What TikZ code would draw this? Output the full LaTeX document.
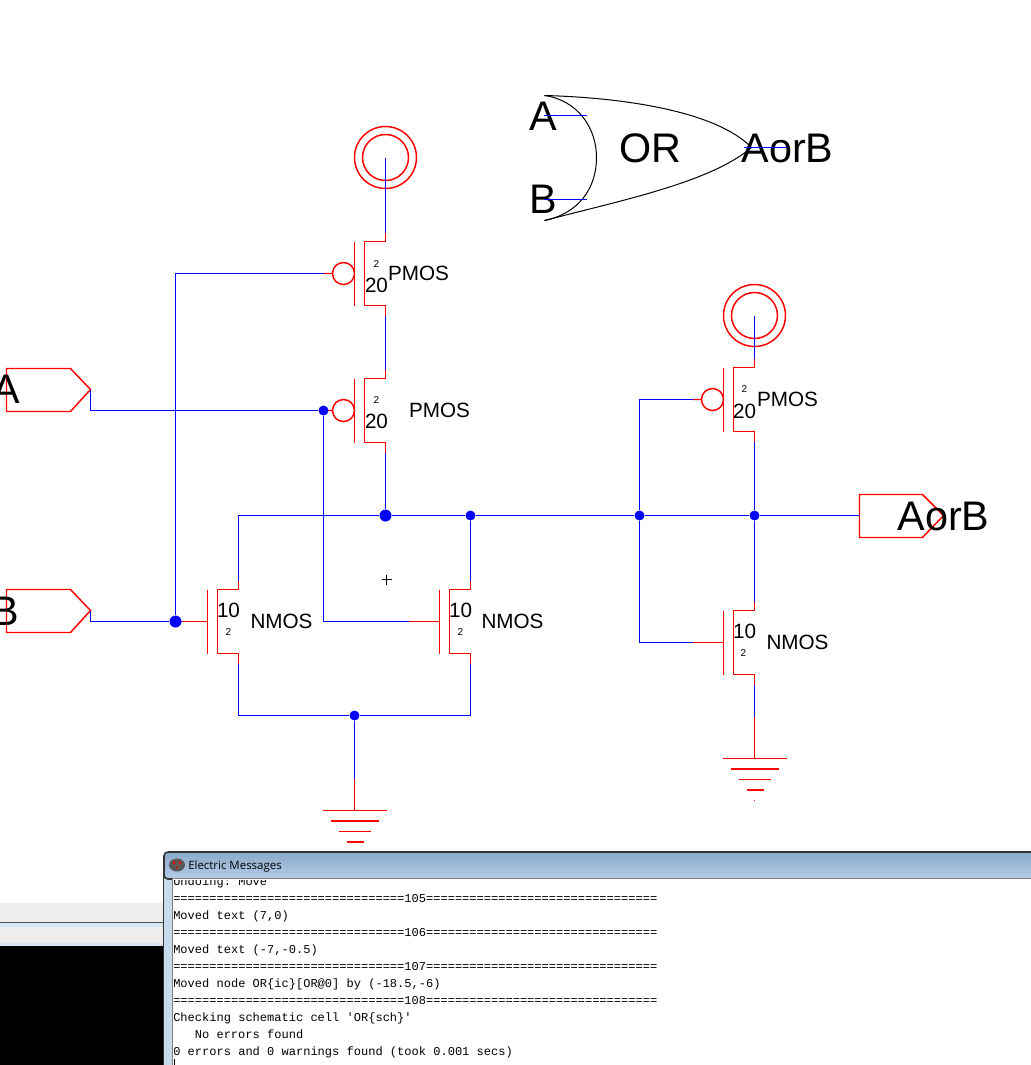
\documentclass[tikz,border=0pt]{standalone}
\usepackage{fontspec}
\setmainfont{Liberation Sans}
\setmonofont{Liberation Mono}
\newfontfamily\titlefont{Open Sans}
\definecolor{wireblue}{RGB}{0,0,255}
\definecolor{bartop}{RGB}{138,169,201}
\definecolor{barbot}{RGB}{181,205,232}
\definecolor{rimblue}{RGB}{216,230,243}
\tikzset{
  wire/.style={color=wireblue,line width=1.1pt},
  part/.style={draw=red,line width=1.1pt},
  dot/.style={circle,fill=wireblue,inner sep=0pt,minimum size=7.5pt},
  bigtext/.style={inner sep=0pt,anchor=base,font=\fontsize{31}{31}\selectfont},
  midtext/.style={inner sep=0pt,anchor=base,font=\fontsize{15.5}{15.5}\selectfont},
  smalltext/.style={inner sep=0pt,anchor=base,font=\fontsize{7.5}{7.5}\selectfont},
  msgtext/.style={inner sep=0pt,anchor=base west,font=\fontsize{9.03}{9.03}\ttfamily},
  ring/.style={circle,draw=red,line width=1.1pt,inner sep=0pt},
  mosbody/.pic={
    \draw[part] (-31,-32) -- (-31,32);
    \draw[part] (0,-41) -- (0,-32) -- (-21,-32) -- (-21,32) -- (0,32) -- (0,42);
    \coordinate (-top) at (0,-41);
    \coordinate (-bot) at (0,42);
    \coordinate (-gate) at (-62,0);
  },
  pmosgate/.pic={
    \draw[part] (-42,0) circle[radius=11] (-53,0) -- (-62,0);
  },
  nmosgate/.pic={
    \draw[part] (-31,0) -- (-62,0);
  },
  groundbars/.pic={
    \draw[part] (-32,0) -- (32,0);
    \draw[part] (-24,10.5) -- (24,10.5);
    \draw[part] (-16,21) -- (16,21);
    \draw[part] (-8,31.5) -- (9,31.5);
  }
}
\begin{document}
\begin{tikzpicture}[x=0.75pt,y=-0.75pt]
  \useasboundingbox (0,0) rectangle (1031,1065);
  \begin{scope}[shift={(0.5,0.5)}]

  % transistors
  \pic (p1) at (385,273) {mosbody};
  \pic at (385,273) {pmosgate};
  \pic (p2) at (385,410) {mosbody};
  \pic at (385,410) {pmosgate};
  \pic (p3) at (754,399) {mosbody};
  \pic at (754,399) {pmosgate};
  \pic (n1) at (238,621) {mosbody};
  \pic at (238,621) {nmosgate};
  \pic (n2) at (470,621) {mosbody};
  \pic at (470,621) {nmosgate};
  \pic (n3) at (754,642) {mosbody};
  \pic at (754,642) {nmosgate};

  % supplies and grounds
  \node[ring,minimum size=46.5pt] (vdd1) at (385,157) {};
  \node[ring,minimum size=34.5pt] (vdd1in) at (385,157) {};
  \node[ring,minimum size=46.5pt] (vdd2) at (754,315) {};
  \node[ring,minimum size=34.5pt] (vdd2in) at (754,315) {};
  \pic at (354,810) {groundbars};
  \pic at (754,758) {groundbars};
  \coordinate (gnd1) at (354,810);
  \coordinate (gnd1w) at (354,778);
  \coordinate (gnd2) at (754,758);
  \coordinate (gnd2w) at (754,716);
  \node[inner sep=0pt,fill=red,minimum size=0.75pt] (gnd2p) at (754,800) {};
  \draw[part] (gnd1w) -- (gnd1);
  \draw[part] (gnd2w) -- (gnd2);

  % pins
  \coordinate (pinAtip) at (90,389);
  \coordinate (pinBtip) at (90,610);
  \coordinate (pinOend) at (859,515);
  \draw[part] (pinAtip) -- (70,368) -- (6,368) -- (6,411) -- (70,411) -- cycle;
  \draw[part] (pinBtip) -- (70,589) -- (6,589) -- (6,632) -- (70,632) -- cycle;
  \draw[part] (943,515) -- (922,494) -- (859,494) -- (859,537) -- (922,537) -- cycle;

  % junctions
  \node[dot,minimum size=9pt] (j1) at (385,515) {};
  \node[dot] (j2) at (470,515) {};
  \node[dot] (j3) at (639,515) {};
  \node[dot] (j4) at (754,515) {};
  \node[dot,minimum size=9pt] (j5) at (175,621) {};
  \node[dot] (j6) at (323,410) {};
  \node[dot] (j7) at (354,715) {};

  % wires
  \begin{scope}[wire]
    \draw (vdd1.center) -- (p1-top);
    \draw (p1-bot) -- (p2-top);
    \draw (p2-bot) -- (j1);
    \draw (vdd2.center) -- (p3-top);
    \draw (p3-bot) -- (j4);
    \draw (j4) -- (n3-top);
    \draw (n3-bot) -- (gnd2w);
    \draw (j7) -- (gnd1w);
    \draw (n1-top) |- (j1);
    \draw (j1) -- (j2);
    \draw (j2) -- (j3);
    \draw (j3) -- (j4);
    \draw (j4) -- (pinOend);
    \draw (j2) -- (n2-top);
    \draw (n1-bot) |- (j7);
    \draw (n2-bot) |- (j7);
    \draw (pinAtip) |- (j6);
    \draw (j6) -- (p2-gate);
    \draw (j6) |- (n2-gate);
    \draw (pinBtip) |- (j5);
    \draw (j5) -- (n1-gate);
    \draw (j5) |- (p1-gate);
    \draw (j3) |- (p3-gate);
    \draw (j3) |- (n3-gate);
  \end{scope}

  % icon of the cell
  \draw[black,line width=0.75pt] (544,95) .. controls (578,100) and (596,128) .. (596,157)
    .. controls (596,188) and (578,213) .. (544,220);
  \draw[black,line width=0.75pt] (544,95) .. controls (620,97) and (715,110) .. (751,147)
    .. controls (710,182) and (620,200) .. (544,220);
  \node[bigtext] (iconA) at (543,130) {A};
  \node[bigtext] (iconB) at (543,213) {B};
  \node[bigtext] (iconOR) at (650,162) {OR};
  \node[bigtext] (iconOut) at (787,162) {AorB};
  \coordinate (iconAa) at (543,115);
  \coordinate (iconAb) at (586,115);
  \coordinate (iconBa) at (543,199);
  \coordinate (iconBb) at (586,199);
  \coordinate (iconOa) at (743,147);
  \coordinate (iconOb) at (786,147);
  \draw[wire] (iconAa) -- (iconAb);
  \draw[wire] (iconBa) -- (iconBb);
  \draw[wire] (iconOa) -- (iconOb);

  % labels
  \node[bigtext] (labA) at (6,403) {A};
  \node[bigtext] (labB) at (5,625) {B};
  \node[bigtext] (labOut) at (943,530) {AorB};
  \node[smalltext] (w1) at (376,267) {2};
  \node[midtext] (l1) at (376,292) {20};
  \node[midtext] (t1) at (418,280) {PMOS};
  \node[smalltext] (w2) at (376,403) {2};
  \node[midtext] (l2) at (376,428) {20};
  \node[midtext] (t2) at (439,417) {PMOS};
  \node[smalltext] (w3) at (744,392) {2};
  \node[midtext] (l3) at (744,418) {20};
  \node[midtext] (t3) at (787,406) {PMOS};
  \node[midtext] (l4) at (228,617) {10};
  \node[smalltext] (w4) at (228,635) {2};
  \node[midtext] (t4) at (281,628) {NMOS};
  \node[midtext] (l5) at (460,617) {10};
  \node[smalltext] (w5) at (460,635) {2};
  \node[midtext] (t5) at (512,628) {NMOS};
  \node[midtext] (l6) at (744,638) {10};
  \node[smalltext] (w6) at (743,656) {2};
  \node[midtext] (t6) at (797,649) {NMOS};
  \draw[black,line width=0.75pt] (381,579) -- (391,579) (386,574) -- (386,584);
  \end{scope}

  % window behind
  \fill[black!7] (0,903) rectangle (163,922);
  \fill[black!70] (0,922) rectangle (163,923);
  \fill[rimblue] (0,923) rectangle (163,927);
  \fill[black!7] (0,927) rectangle (163,943);
  \fill[rimblue] (0,943) rectangle (163,946);
  \fill[black] (0,946) rectangle (163,1065);

  % message window
  \fill[barbot!75!white] (163,860) rectangle (1031,1065);
  \draw[black!80,line width=1.2pt,top color=bartop,bottom color=barbot,rounded corners=3pt]
    (164,879) -- (164,852) -- (1040,852) -- (1040,879) -- cycle;
  \draw[black!80,line width=0.75pt] (163.5,870) -- (163.5,1065);
  \fill[white] (172,879) rectangle (1031,1065);
  \draw[black!50,line width=0.75pt] (172,878.5) -- (1031,878.5) (172,879) -- (172,1065);
  \fill[black!65] (177,865) ellipse[x radius=8,y radius=6.5];
  \fill[red] (174,862.5) circle[radius=1.5] (180,862.5) circle[radius=1.5] (177,867.5) circle[radius=1.2];
  \node[inner sep=0pt,anchor=base west,font=\titlefont\fontsize{8.6}{8.6}\selectfont] (title) at (188,869) {Electric Messages};
  \begin{scope}
    \clip (172,880) rectangle (1031,1065);
    \node[msgtext] (m0) at (173,885) {Undoing: Move};
    \node[msgtext] (m1) at (173,902) {================================105================================};
    \node[msgtext] (m2) at (173,919) {Moved text (7,0)};
    \node[msgtext] (m3) at (173,936) {================================106================================};
    \node[msgtext] (m4) at (173,953) {Moved text (-7,-0.5)};
    \node[msgtext] (m5) at (173,970) {================================107================================};
    \node[msgtext] (m6) at (173,987) {Moved node OR\{ic\}[OR@0] by (-18.5,-6)};
    \node[msgtext] (m7) at (173,1004) {================================108================================};
    \node[msgtext] (m8) at (173,1021) {Checking schematic cell 'OR\{sch\}'};
    \node[msgtext] (m9) at (194.6,1038) {No errors found};
    \node[msgtext] (m10) at (173,1055) {0 errors and 0 warnings found (took 0.001 secs)};
    \draw[black,line width=0.75pt] (174.5,1059) -- (174.5,1065);
  \end{scope}
\end{tikzpicture}
\end{document}
